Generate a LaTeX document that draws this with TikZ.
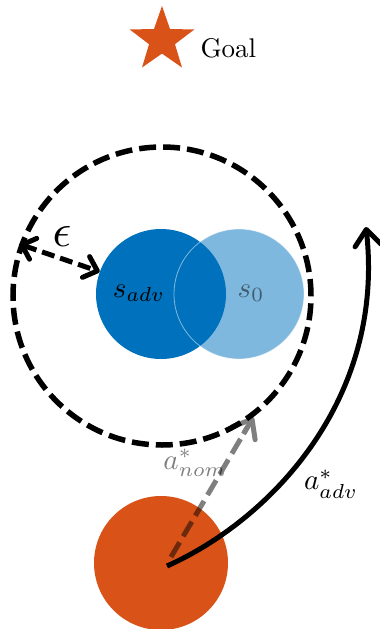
\documentclass[tikz,border=0pt]{standalone}
\usepackage{tikz}
\usetikzlibrary{arrows.meta, shapes.geometric, calc}

\definecolor{mlorange}{HTML}{D95319}
\definecolor{mlblue}{HTML}{0072BD}

\begin{document}
\begin{tikzpicture}[
    x=1pt, y=-1pt,
    disk/.style={circle, inner sep=0pt, minimum size=130pt},
    lbl/.style={inner sep=0pt, scale=2.9},
    dashline/.style={line width=5.5pt, dash pattern=on 17pt off 7pt},
    thickarrow/.style={line width=5pt, -{Straight Barb[round, length=16pt, width=26pt]}}
  ]
  \useasboundingbox (0,0) rectangle (380,629);

  % goal
  \node[star, star points=5, star point ratio=2.5, fill=mlorange,
        inner sep=0pt, minimum size=68pt] (goal) at (162,40) {};
  \node[anchor=base west, inner sep=0pt, scale=2.7] (goaltxt) at (200,57) {Goal};

  % epsilon ball
  \node[circle, draw, dashline, inner sep=0pt, minimum size=298pt]
    (ball) at (162,296) {};

  % states
  \node[disk, fill=mlblue] (sadv) at (161,294) {};
  \node[disk, fill=mlblue, draw=white, line width=0.8pt,
        opacity=0.5] (snom) at (239,294) {};
  \node[lbl] (sadvtxt) at (139,293) {$s_{adv}$};
  \node[lbl, opacity=0.5] (snomtxt) at (251,293) {$s_0$};

  % start
  \node[circle, fill=mlorange, inner sep=0pt, minimum size=134pt]
    (start) at (161,563) {};
  \coordinate (nomfrom) at (171,557);
  \coordinate (advfrom) at (167,566);
  \coordinate (advto) at (366,227);

  \draw[dashline, line width=5pt, dash pattern=on 13pt off 6pt,
        {Straight Barb[round, length=12pt, width=22pt]}-{Straight Barb[round, length=12pt, width=22pt]}]
    (ball.160) -- (sadv.160);
  \node[lbl, scale=1.6] (eps) at (62,237) {$\epsilon$};

  \begin{scope}[transparency group, opacity=0.5]
    \draw[dashline, line width=5pt] (nomfrom) -- ($(nomfrom)!0.93!(ball.-53)$);
    \draw[thickarrow] ($(nomfrom)!0.88!(ball.-53)$) -- (ball.-53);
  \end{scope}
  \node[lbl, opacity=0.5] (anom) at (195,463) {$a^*_{nom}$};

  \draw[thickarrow] (advfrom) .. controls (270,520) and (385,400) .. (advto);
  \node[lbl] (aadv) at (331,484) {$a^*_{adv}$};
\end{tikzpicture}
\end{document}
